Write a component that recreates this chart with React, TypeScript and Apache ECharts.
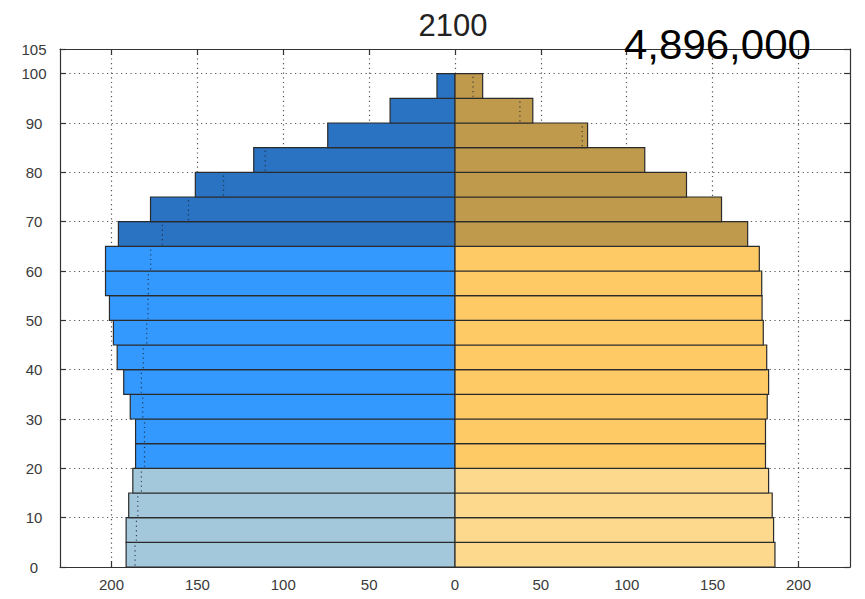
import React, { useEffect, useRef } from 'react';
import * as echarts from 'echarts';

const AGE_STARTS = [0, 5, 10, 15, 20, 25, 30, 35, 40, 45, 50, 55, 60, 65, 70, 75, 80, 85, 90, 95];
const MALE = [191.5, 191.5, 190.0, 187.6, 186.0, 186.0, 189.1, 192.9, 196.7, 198.9, 201.2, 203.5, 203.5, 196.0, 177.3, 151.2, 117.2, 74.1, 37.8, 10.5];
const FEMALE = [186.3, 185.5, 184.7, 182.6, 180.8, 180.8, 181.8, 182.6, 181.5, 179.5, 178.8, 178.6, 177.2, 170.4, 155.2, 134.8, 110.5, 77.2, 45.3, 16.1];
const X_TICKS = [-200, -150, -100, -50, 0, 50, 100, 150, 200];
const Y_LABELS = [0, 10, 20, 30, 40, 50, 60, 70, 80, 90, 100, 105];
const TITLE = '2100';
const TOTAL = '4,896,000';

const MALE_COLORS = { young: '#a3c8dc', adult: '#3399ff', old: '#2a72c2' };
const FEMALE_COLORS = { young: '#fdd98d', adult: '#fdca66', old: '#c09a4c' };

const FONT = '"Liberation Sans", Arial, Helvetica, sans-serif';

function barRender(colors: { young: string; adult: string; old: string }) {
  return (params: any, api: any) => {
    const v = api.value(0);
    const a = api.value(1);
    const p0 = api.coord([0, a]);
    const p1 = api.coord([v, a + 5]);
    const fill = a < 20 ? colors.young : a < 65 ? colors.adult : colors.old;
    return {
      type: 'rect',
      shape: {
        x: Math.min(p0[0], p1[0]),
        y: p1[1],
        width: Math.abs(p1[0] - p0[0]),
        height: p0[1] - p1[1],
      },
      style: { fill, stroke: '#2b2b2b', lineWidth: 1.2 },
    };
  };
}

function dotRender(params: any, api: any) {
  const v = api.value(0);
  const a = api.value(1);
  const p0 = api.coord([v, a + 0.3]);
  const p1 = api.coord([v, a + 4.7]);
  return {
    type: 'line',
    shape: { x1: p0[0], y1: p0[1], x2: p1[0], y2: p1[1] },
    style: { stroke: '#1e2a3a', lineWidth: 1.2, lineDash: [1.2, 3.5], opacity: 0.85 },
  };
}

export default function App() {
  const ref = useRef<HTMLDivElement>(null);
  useEffect(() => {
    if (!ref.current) return;
    const chart = echarts.init(ref.current, undefined, { renderer: 'svg' });
    const maleData = AGE_STARTS.map((a, i) => [-MALE[i], a]);
    const femaleData = AGE_STARTS.map((a, i) => [FEMALE[i], a]);
    const dotData = AGE_STARTS.map((a, i) => [MALE[i] > FEMALE[i] ? -FEMALE[i] : MALE[i], a]);
    const axisLineStyle = { color: '#333', width: 1.2 };
    const labelStyle = { color: '#3a3a3a', fontSize: 15, fontFamily: FONT };
    const gridDots = { color: '#555', width: 1.2, type: [1.2, 3.5] as any };
    chart.setOption({
      animation: false,
      backgroundColor: '#fff',
      grid: { left: 60, right: 15, top: 49, bottom: 32, containLabel: false },
      xAxis: [
        {
          type: 'value',
          position: 'bottom',
          min: -230,
          max: 230,
          axisLine: { show: true, onZero: false, lineStyle: axisLineStyle },
          axisTick: { show: true, inside: true, length: 6, customValues: X_TICKS, lineStyle: axisLineStyle },
          axisLabel: {
            ...labelStyle,
            customValues: X_TICKS,
            margin: 10,
            formatter: (v: number) => String(Math.abs(v)),
          },
          splitLine: { show: true, lineStyle: gridDots },
        },
        {
          type: 'value',
          position: 'top',
          min: -230,
          max: 230,
          axisLine: { show: true, onZero: false, lineStyle: axisLineStyle },
          axisTick: { show: true, inside: true, length: 6, customValues: X_TICKS, lineStyle: axisLineStyle },
          axisLabel: { show: false },
          splitLine: { show: false },
        },
      ],
      yAxis: [
        {
          type: 'value',
          position: 'left',
          min: 0,
          max: 105,
          interval: 10,
          axisLine: { show: true, onZero: false, lineStyle: axisLineStyle },
          axisTick: { show: true, inside: true, length: 6, lineStyle: axisLineStyle },
          axisLabel: { ...labelStyle, customValues: Y_LABELS, align: 'center', margin: 26 },
          splitLine: { show: true, lineStyle: gridDots },
        },
        {
          type: 'value',
          position: 'right',
          min: 0,
          max: 105,
          interval: 10,
          axisLine: { show: true, onZero: false, lineStyle: axisLineStyle },
          axisTick: { show: true, inside: true, length: 6, lineStyle: axisLineStyle },
          axisLabel: { show: false },
          splitLine: { show: false },
        },
      ],
      series: [
        {
          type: 'custom',
          name: 'Male',
          xAxisIndex: 0,
          yAxisIndex: 0,
          renderItem: barRender(MALE_COLORS),
          encode: { x: 0, y: 1 },
          data: maleData,
          z: 2,
        },
        {
          type: 'custom',
          name: 'Female',
          xAxisIndex: 0,
          yAxisIndex: 0,
          renderItem: barRender(FEMALE_COLORS),
          encode: { x: 0, y: 1 },
          data: femaleData,
          z: 2,
        },
        {
          type: 'custom',
          name: 'Mirror',
          xAxisIndex: 0,
          yAxisIndex: 0,
          renderItem: dotRender,
          encode: { x: 0, y: 1 },
          data: dotData,
          z: 3,
        },
      ],
      graphic: [
        {
          type: 'text',
          z: 100,
          x: 453,
          y: 25,
          style: { text: TITLE, fontSize: 31, fill: '#222', align: 'center', verticalAlign: 'middle', fontFamily: FONT },
        },
        {
          type: 'text',
          z: 100,
          x: 624,
          y: 44,
          style: { text: TOTAL, fontSize: 42, fill: '#000', align: 'left', verticalAlign: 'middle', fontFamily: FONT },
        },
      ],
    });
    return () => chart.dispose();
  }, []);
  return (
    <div
      ref={ref}
      style={{ position: 'fixed', left: 0, top: 0, width: 865, height: 599, background: '#fff' }}
    />
  );
}
